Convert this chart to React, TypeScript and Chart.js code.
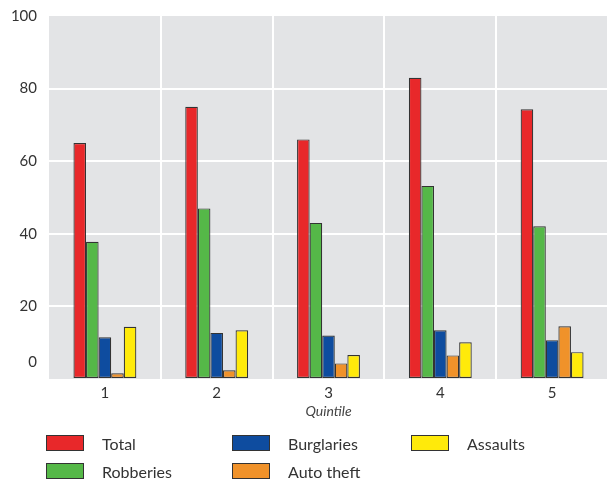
import React, { useEffect, useRef } from 'react';
import { Chart, registerables } from 'chart.js';

Chart.register(...registerables);

const categories = ['1', '2', '3', '4', '5'];
const total = [65, 75, 66, 83, 74.3];
const robberies = [37.8, 47, 43, 53.2, 42.1];
const burglaries = [11.5, 12.7, 12, 13.4, 10.7];
const autoTheft = [1.6, 2.4, 4.3, 6.5, 14.5];
const assaults = [14.4, 13.4, 6.6, 10.1, 7.4];
const seriesNames = ['Total', 'Robberies', 'Burglaries', 'Auto theft', 'Assaults'];
const seriesValues = [total, robberies, burglaries, autoTheft, assaults];
const seriesColors = ['#E8282A', '#55B848', '#0E4C9F', '#F0922A', '#FFEA0A'];
const yMin = 0;
const yMax = 100;
const yStep = 20;
const xTitle = 'Quintile';

const FONT = 'Lato, "Open Sans", sans-serif';
const TEXT = '#333333';

const bgPlugin = {
  id: 'plotBg',
  beforeDraw(chart: any) {
    const { ctx, chartArea } = chart;
    if (!chartArea) return;
    ctx.save();
    ctx.fillStyle = '#E3E4E6';
    ctx.fillRect(chartArea.left, chartArea.top, chartArea.right - chartArea.left, chartArea.bottom - chartArea.top);
    ctx.restore();
  },
};

const legendPlugin = {
  id: 'colLegend',
  afterDraw(chart: any) {
    const { ctx } = chart;
    const colX = [46, 232, 411];
    const rowY = [435, 463];
    const boxW = 38;
    const boxH = 16;
    ctx.save();
    ctx.font = `16px ${FONT}`;
    ctx.textBaseline = 'middle';
    ctx.textAlign = 'left';
    chart.data.datasets.forEach((ds: any, i: number) => {
      const x = colX[Math.floor(i / 2)];
      const y = rowY[i % 2];
      ctx.fillStyle = ds.backgroundColor;
      ctx.fillRect(x, y, boxW, boxH);
      ctx.strokeStyle = '#333';
      ctx.lineWidth = 1;
      ctx.strokeRect(x + 0.5, y + 0.5, boxW - 1, boxH - 1);
      ctx.fillStyle = TEXT;
      ctx.fillText(ds.label, x + boxW + 18, y + boxH / 2 + 2);
    });
    ctx.restore();
  },
};

export default function App() {
  const ref = useRef<HTMLCanvasElement | null>(null);

  useEffect(() => {
    if (!ref.current) return;
    const chart = new Chart(ref.current, {
      type: 'bar',
      data: {
        labels: categories,
        datasets: seriesNames.map((name, i) => ({
          label: name,
          data: seriesValues[i],
          backgroundColor: seriesColors[i],
          borderColor: '#333333',
          borderWidth: 1.2,
          borderSkipped: false,
          categoryPercentage: 0.5625,
          barPercentage: 1,
        })),
      },
      options: {
        responsive: false,
        animation: false,
        layout: { padding: { top: 16, right: 3, bottom: 65, left: 0 } },
        plugins: {
          legend: { display: false },
          tooltip: { enabled: false },
        },
        scales: {
          x: {
            border: { display: false },
            grid: {
              offset: true,
              drawTicks: false,
              lineWidth: 2,
              color: (c: any) => (c.index === 0 || c.index === categories.length ? 'rgba(0,0,0,0)' : '#ffffff'),
            },
            ticks: { color: TEXT, font: { family: FONT, size: 15 }, padding: 5 },
            title: {
              display: true,
              text: xTitle,
              color: '#444444',
              font: { family: FONT, size: 14, style: 'italic' },
              padding: { top: 0, bottom: 0 },
            },
            afterFit(scale: any) {
              scale.height = 41;
            },
          },
          y: {
            min: yMin,
            max: yMax,
            border: { display: false },
            grid: {
              drawTicks: false,
              lineWidth: 2,
              color: (c: any) => (c.tick && (c.tick.value === yMin || c.tick.value === yMax) ? 'rgba(0,0,0,0)' : '#ffffff'),
            },
            ticks: {
              stepSize: yStep,
              color: TEXT,
              padding: 12,
              font: { family: FONT, size: 15, lineHeight: 1.1 },
              callback: (v: any) => (v === yMin ? [String(v), '', ''] : String(v)),
            },
            afterFit(scale: any) {
              scale.width = 49;
              scale.paddingTop = 0;
              scale.paddingBottom = 0;
            },
          },
        },
      },
      plugins: [bgPlugin, legendPlugin],
    });
    return () => chart.destroy();
  }, []);

  return (
    <div style={{ position: 'absolute', left: 0, top: 0, width: 611, height: 485 }}>
      <canvas ref={ref} width={611} height={485} />
    </div>
  );
}
